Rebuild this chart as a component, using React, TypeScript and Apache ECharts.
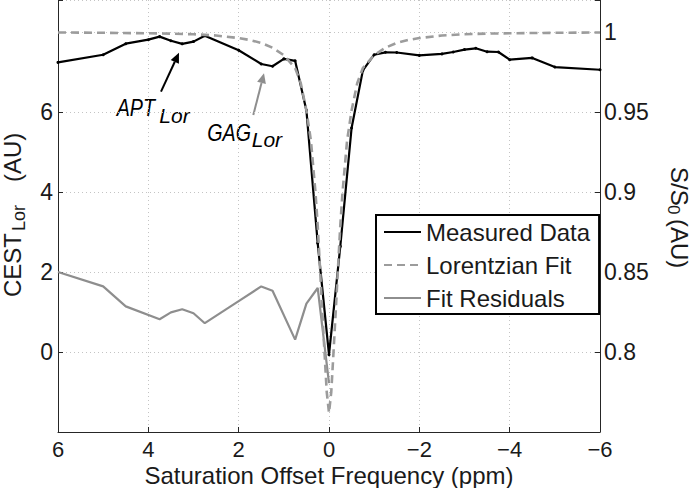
import React, { useEffect, useRef } from "react";
import * as echarts from "echarts";

// Measured Z-spectrum (S/S0, right axis)
const ppmMeasured = [6, 5, 4.5, 4, 3.75, 3.5, 3.25, 3, 2.75, 2, 1.5, 1.25, 1, 0.75, 0.5, 0.25, 0, -0.25, -0.5, -0.75, -1, -1.25, -1.5, -2, -2.5, -2.75, -3, -3.25, -3.5, -3.75, -4, -4.5, -5, -6];
const measured = [0.981, 0.9858, 0.9927, 0.9952, 0.9971, 0.9945, 0.9926, 0.994, 0.9977, 0.9886, 0.98, 0.9786, 0.9832, 0.982, 0.951, 0.868, 0.7983, 0.866, 0.94, 0.976, 0.9858, 0.9873, 0.9872, 0.9854, 0.9863, 0.9875, 0.989, 0.9898, 0.9877, 0.9875, 0.9827, 0.9838, 0.9781, 0.9764];

// Lorentzian fit (S/S0, right axis)
const ppmFit = [6, 5, 4, 3.5, 3, 2.5, 2, 1.75, 1.5, 1.25, 1, 0.875, 0.75, 0.625, 0.5, 0.4, 0.3, 0.25, 0.2, 0.15, 0.1, 0.05, 0, -0.05, -0.1, -0.15, -0.2, -0.25, -0.3, -0.4, -0.5, -0.625, -0.75, -0.875, -1, -1.25, -1.5, -1.75, -2, -2.5, -3, -3.5, -4, -5, -6];
const fit = [0.9997, 0.9995, 0.9992, 0.999, 0.9986, 0.9978, 0.9962, 0.995, 0.9932, 0.9902, 0.9855, 0.9815, 0.9775, 0.968, 0.951, 0.932, 0.9, 0.879, 0.853, 0.826, 0.8, 0.775, 0.762, 0.775, 0.8, 0.826, 0.853, 0.879, 0.9, 0.932, 0.951, 0.968, 0.9775, 0.9815, 0.9855, 0.9902, 0.9932, 0.995, 0.9962, 0.9978, 0.9986, 0.999, 0.9992, 0.9995, 0.9997];

// Fit residuals (CEST_Lor, left axis)
const ppmResid = [6, 5, 4.5, 3.75, 3.5, 3.25, 3, 2.75, 2, 1.5, 1.25, 0.75, 0.5, 0.25, 0];
const resid = [2.0, 1.64, 1.14, 0.82, 0.99, 1.07, 0.97, 0.72, 1.27, 1.64, 1.53, 0.31, 1.21, 1.6, -0.78];

const xTicks = { min: -6, max: 6, step: 2 };
const leftTicks = { min: -2, max: 8.8, step: 2 };
const rightTicks = { min: 0.75, max: 1.02, step: 0.05 };

const FONT = "'Liberation Sans', Arial, Helvetica, sans-serif";
const INK = "#1a1a1a";
const GRAY = "#8e8e8e";

function arrow(x1: number, y1: number, x2: number, y2: number, color: string) {
  const dx = x2 - x1, dy = y2 - y1;
  const len = Math.hypot(dx, dy);
  const ux = dx / len, uy = dy / len;
  const hl = 10, hw = 4.5;
  const bx = x2 - hl * ux, by = y2 - hl * uy;
  const nx = -uy, ny = ux;
  return [
    { type: "line", shape: { x1, y1, x2: bx, y2: by }, style: { stroke: color, lineWidth: 2 } },
    {
      type: "polygon",
      shape: { points: [[x2, y2], [bx + hw * nx, by + hw * ny], [bx - hw * nx, by - hw * ny]] },
      style: { fill: color },
    },
  ];
}

export default function App() {
  const ref = useRef<HTMLDivElement>(null);
  useEffect(() => {
    const chart = echarts.init(ref.current!, undefined, { renderer: "svg" });
    const zip = (xs: number[], ys: number[]) => xs.map((x, i) => [x, ys[i]]);
    const fmtX = (v: number) => (v < 0 ? "\u2212" + Math.abs(v) : String(v));
    chart.setOption({
      animation: false,
      textStyle: { fontFamily: FONT },
      grid: { left: 58, right: 92, top: 0, bottom: 56, containLabel: false, outerBoundsMode: "none" },
      xAxis: {
        type: "value",
        min: xTicks.min,
        max: xTicks.max,
        interval: xTicks.step,
        inverse: true,
        axisLine: { show: true, onZero: false, lineStyle: { color: "#262626", width: 1 } },
        axisTick: { show: true, inside: true, length: 5, lineStyle: { color: "#262626" } },
        axisLabel: { fontSize: 22, color: INK, margin: 6, formatter: fmtX, fontFamily: FONT },
        splitLine: { show: true, lineStyle: { color: "#c4c4c4", type: [1, 3], width: 1 } },
      },
      yAxis: [
        {
          type: "value",
          position: "left",
          min: leftTicks.min,
          max: leftTicks.max,
          interval: leftTicks.step,
          axisLine: { show: true, onZero: false, lineStyle: { color: "#262626", width: 1 } },
          axisTick: { show: true, inside: true, length: 5, lineStyle: { color: "#262626" } },
          axisLabel: {
            fontSize: 23, color: INK, margin: 5, fontFamily: FONT,
            formatter: (v: number) => (v < -0.5 || v > 7 ? "" : String(v)),
          },
          splitLine: { show: false },
        },
        {
          type: "value",
          position: "right",
          min: rightTicks.min,
          max: rightTicks.max,
          interval: rightTicks.step,
          axisLine: { show: true, onZero: false, lineStyle: { color: "#262626", width: 1 } },
          axisTick: { show: true, inside: true, length: 5, lineStyle: { color: "#262626" } },
          axisLabel: {
            fontSize: 23, color: INK, margin: 4, fontFamily: FONT,
            formatter: (v: number) => (v < 0.78 || v > 1.005 ? "" : String(Number(v.toFixed(2)))),
          },
          splitLine: { show: true, lineStyle: { color: "#c4c4c4", type: [1, 3], width: 1 } },
        },
      ],
      legend: {
        orient: "vertical",
        left: 376,
        top: 215,
        itemWidth: 37,
        itemHeight: 12,
        itemGap: 9,
        padding: [5, 9, 4, 7],
        borderColor: "#000",
        borderWidth: 2,
        backgroundColor: "#fff",
        textStyle: { fontSize: 24, color: INK, fontFamily: FONT },
        data: [
          { name: "Measured Data", itemStyle: { opacity: 0 } },
          { name: "Lorentzian Fit", itemStyle: { opacity: 0 } },
          { name: "Fit Residuals", itemStyle: { opacity: 0 } },
        ],
      },
      series: [
        {
          name: "Measured Data",
          type: "line",
          yAxisIndex: 1,
          data: zip(ppmMeasured, measured),
          symbol: "circle",
          symbolSize: 3,
          showSymbol: true,
          itemStyle: { color: "#000" },
          lineStyle: { color: "#000", width: 2.2 },
          z: 3,
        },
        {
          name: "Lorentzian Fit",
          type: "line",
          yAxisIndex: 1,
          data: zip(ppmFit, fit),
          symbol: "none",
          itemStyle: { color: "#9c9c9c" },
          lineStyle: { color: "#9c9c9c", width: 2.6, type: [8, 5] },
          z: 4,
        },
        {
          name: "Fit Residuals",
          type: "line",
          yAxisIndex: 0,
          data: zip(ppmResid, resid),
          symbol: "none",
          itemStyle: { color: GRAY },
          lineStyle: { color: GRAY, width: 2.2 },
          z: 2,
        },
      ],
      graphic: [
        ...arrow(161, 91.7, 179, 52.7, "#000"),
        ...arrow(253.3, 115, 264, 73.3, GRAY),
        { type: "text", x: 116.7, y: 107.4, scaleX: 0.82, style: { text: "APT", font: `italic 24px ${FONT}`, fill: "#000", verticalAlign: "middle", align: "left" } },
        { type: "text", x: 159.3, y: 115.2, style: { text: "Lor", font: `italic 21px ${FONT}`, fill: "#000", verticalAlign: "middle", align: "left" } },
        { type: "text", x: 207.3, y: 133, scaleX: 0.82, style: { text: "GAG", font: `italic 24px ${FONT}`, fill: "#000", verticalAlign: "middle", align: "left" } },
        { type: "text", x: 251.7, y: 139.2, style: { text: "Lor", font: `italic 21px ${FONT}`, fill: "#000", verticalAlign: "middle", align: "left" } },
        { type: "text", x: 329, y: 475, style: { text: "Saturation Offset Frequency (ppm)", font: `24px ${FONT}`, fill: INK, verticalAlign: "middle", align: "center" } },
        {
          type: "group",
          x: 12,
          y: 297,
          rotation: Math.PI / 2,
          children: [
            { type: "text", x: 0, y: 0, style: { text: "CEST", font: `24px ${FONT}`, fill: INK, verticalAlign: "middle", align: "left" } },
            { type: "text", x: 66, y: 7, style: { text: "Lor", font: `18px ${FONT}`, fill: INK, verticalAlign: "middle", align: "left" } },
            { type: "text", x: 115, y: 0, style: { text: "(AU)", font: `24px ${FONT}`, fill: INK, verticalAlign: "middle", align: "left" } },
          ],
        },
        {
          type: "group",
          x: 679,
          y: 167,
          rotation: -Math.PI / 2,
          children: [
            { type: "text", x: 0, y: 0, style: { text: "S/S", font: `24px ${FONT}`, fill: INK, verticalAlign: "middle", align: "left" } },
            { type: "text", x: 38, y: 6, style: { text: "0", font: `17px ${FONT}`, fill: INK, verticalAlign: "middle", align: "left" } },
            { type: "text", x: 52, y: 0, style: { text: "(AU)", font: `24px ${FONT}`, fill: INK, verticalAlign: "middle", align: "left" } },
          ],
        },
      ],
    });
    return () => chart.dispose();
  }, []);
  return <div ref={ref} style={{ width: 692, height: 488, position: "absolute", left: 0, top: 0, background: "#fff" }} />;
}
